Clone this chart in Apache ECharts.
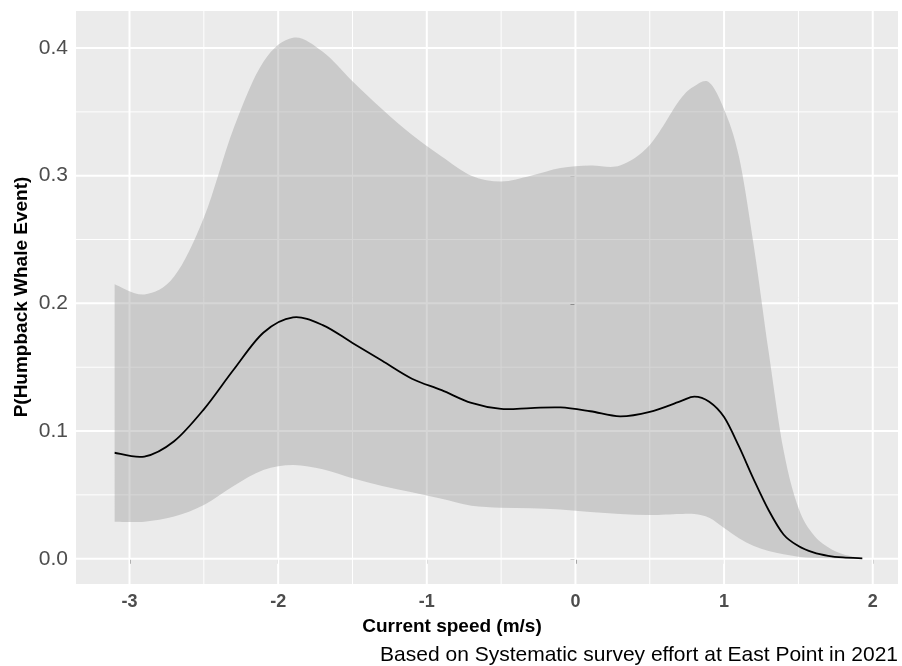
<!DOCTYPE html>
<html lang="en">
	<head>
		<meta charset="UTF-8">
		<title>Humpback whale event vs current speed</title>
	</head>

	<body style="margin:0;background:#fff;">
		<div id="main" style="width: 902px;height:666px;"></div>

		<script type="text/javascript" src="https://cdn.jsdelivr.net/npm/echarts@6/dist/echarts.min.js"></script>
		<script type="text/javascript">
			// current speed (m/s)
			var speed = [-3.1, -2.9, -2.7, -2.5, -2.3, -2.1, -1.9, -1.7, -1.5, -1.3, -1.1, -0.9, -0.7, -0.5, -0.3, -0.1,
				0.1, 0.3, 0.5, 0.7, 0.8, 0.9, 1.0, 1.1, 1.2, 1.3, 1.4, 1.5, 1.6, 1.7, 1.8, 1.93];
			// fitted probability
			var fit = [0.083, 0.080, 0.092, 0.117, 0.148, 0.177, 0.189, 0.183, 0.169, 0.155, 0.141, 0.132, 0.122, 0.1173, 0.118, 0.1185,
				0.1155, 0.1115, 0.115, 0.123, 0.127, 0.123, 0.111, 0.088, 0.062, 0.038, 0.019, 0.010, 0.005, 0.0023, 0.001, 0.0003];
			// confidence band
			var upper = [0.215, 0.207, 0.221, 0.267, 0.337, 0.389, 0.408, 0.397, 0.374, 0.352, 0.332, 0.315, 0.300, 0.2955, 0.300, 0.306,
				0.308, 0.308, 0.324, 0.359, 0.370, 0.373, 0.352, 0.315, 0.245, 0.162, 0.085, 0.040, 0.019, 0.009, 0.0035, 0.0003];
			var lower = [0.029, 0.029, 0.033, 0.042, 0.057, 0.0695, 0.0735, 0.070, 0.063, 0.057, 0.052, 0.047, 0.0415, 0.040, 0.0395, 0.0385,
				0.0365, 0.035, 0.0342, 0.035, 0.035, 0.032, 0.024, 0.016, 0.010, 0.006, 0.0035, 0.0016, 0.0008, 0.0004, 0.0002, 0.0001];

			// tick labels and grid lines
			var xTicks = [-3, -2, -1, 0, 1, 2];
			var xMinor = [-2.5, -1.5, -0.5, 0.5, 1.5];
			var yTicks = [0, 0.1, 0.2, 0.3, 0.4];
			var yMinor = [0.05, 0.15, 0.25, 0.35];

			var font = '"Liberation Sans", Arial, sans-serif';

			// catmull-rom curve through pixel points, as svg path commands
			function curve(pts) {
				var d = '';
				for (var i = 0; i < pts.length - 1; i++) {
					var p0 = pts[i - 1] || pts[i];
					var p1 = pts[i];
					var p2 = pts[i + 1];
					var p3 = pts[i + 2] || p2;
					var c1x = p1[0] + (p2[0] - p0[0]) / 6, c1y = p1[1] + (p2[1] - p0[1]) / 6;
					var c2x = p2[0] - (p3[0] - p1[0]) / 6, c2y = p2[1] - (p3[1] - p1[1]) / 6;
					d += ' C' + c1x + ',' + c1y + ' ' + c2x + ',' + c2y + ' ' + p2[0] + ',' + p2[1];
				}
				return d;
			}

			function renderAll(params, api) {
				if (params.dataIndex !== 0) return;
				var cs = params.coordSys;
				var kids = [];

				// ggplot style white grid
				function vline(v, w) {
					var x = api.coord([v, 0])[0];
					kids.push({ type: 'line', shape: { x1: x, y1: cs.y, x2: x, y2: cs.y + cs.height }, style: { stroke: '#ffffff', lineWidth: w } });
				}
				function hline(v, w) {
					var y = api.coord([0, v])[1];
					kids.push({ type: 'line', shape: { x1: cs.x, y1: y, x2: cs.x + cs.width, y2: y }, style: { stroke: '#ffffff', lineWidth: w } });
				}
				xMinor.forEach(function (v) { vline(v, 1); });
				yMinor.forEach(function (v) { hline(v, 1); });
				xTicks.forEach(function (v) { vline(v, 2); });
				yTicks.forEach(function (v) { hline(v, 2); });

				// confidence ribbon
				var up = speed.map(function (x, i) { return api.coord([x, upper[i]]); });
				var lo = speed.map(function (x, i) { return api.coord([x, lower[i]]); }).reverse();
				var d = 'M' + up[0][0] + ',' + up[0][1] + curve(up) +
					' L' + lo[0][0] + ',' + lo[0][1] + curve(lo) + ' Z';
				kids.push({ type: 'path', shape: { pathData: d }, style: { fill: 'rgba(153,153,153,0.4)' } });

				// fitted line
				var fp = speed.map(function (x, i) { return api.coord([x, fit[i]]); });
				var fd = 'M' + fp[0][0] + ',' + fp[0][1] + curve(fp);
				kids.push({ type: 'path', shape: { pathData: fd }, style: { fill: null, stroke: '#000000', lineWidth: 1.8 } });

				return { type: 'group', children: kids };
			}

			var myChart = echarts.init(document.getElementById('main'));

			var option = {
				animation: false,
				backgroundColor: '#ffffff',
				grid: {
					left: 76,
					right: 4,
					top: 11,
					bottom: 82,
					show: true,
					backgroundColor: '#EBEBEB',
					borderWidth: 0
				},
				xAxis: {
					type: 'value',
					min: -3.36,
					max: 2.17,
					axisLine: { show: false },
					splitLine: { show: false },
					axisTick: {
						show: true,
						length: 5,
						customValues: xTicks,
						lineStyle: { color: '#333333', width: 1.5 }
					},
					axisLabel: {
						customValues: xTicks,
						margin: 9,
						color: '#4D4D4D',
						fontWeight: 'bold',
						fontSize: 18,
						fontFamily: font
					}
				},
				yAxis: {
					type: 'value',
					min: -0.0198,
					max: 0.429,
					axisLine: { show: false },
					splitLine: { show: false },
					axisTick: {
						show: true,
						length: 5,
						customValues: yTicks,
						lineStyle: { color: '#333333', width: 1.5 }
					},
					axisLabel: {
						customValues: yTicks,
						margin: 8,
						color: '#4D4D4D',
						fontSize: 21,
						fontFamily: font,
						formatter: function (v) { return v.toFixed(1); }
					}
				},
				graphic: [
					{
						type: 'text',
						x: 452,
						y: 627,
						style: {
							text: 'Current speed (m/s)',
							font: 'bold 19px ' + font,
							fill: '#000',
							align: 'center',
							verticalAlign: 'middle'
						}
					},
					{
						type: 'text',
						x: 22,
						y: 297,
						rotation: Math.PI / 2,
						style: {
							text: 'P(Humpback Whale Event)',
							font: 'bold 19px ' + font,
							fill: '#000',
							align: 'center',
							verticalAlign: 'middle'
						}
					},
					{
						type: 'text',
						x: 898,
						y: 655,
						style: {
							text: 'Based on Systematic survey effort at East Point in 2021',
							font: '21px ' + font,
							fill: '#000',
							align: 'right',
							verticalAlign: 'middle'
						}
					}
				],
				series: [
					{
						name: 'smooth',
						type: 'custom',
						silent: true,
						clip: false,
						renderItem: renderAll,
						data: [[speed[0], fit[0]]]
					}
				]
			};

			myChart.setOption(option);
		</script>
	</body>
</html>
